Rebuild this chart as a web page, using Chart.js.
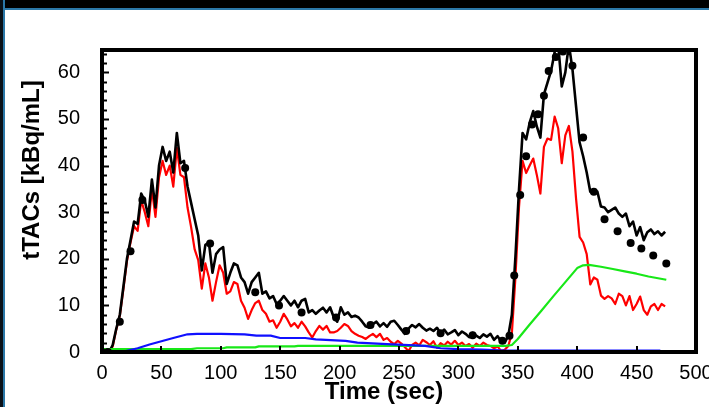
<!DOCTYPE html>
<html>
<head>
<meta charset="utf-8">
<script src="https://cdn.jsdelivr.net/npm/chart.js@4"></script>
<style>
    html, body { margin: 0; padding: 0; background: #fff; overflow: hidden; width: 709px; height: 407px; }
    #chartBox { position: absolute; left: 0; top: 0; }
    #frameTop { position: absolute; left: 0; top: 0; width: 709px; height: 8px; background: #000; border-bottom: 2px solid #2b78a8; z-index: 2; }
    #frameLeft { position: absolute; left: 0; top: 0; width: 3px; height: 407px; background: #0a1118; border-right: 2px solid #2b78a8; z-index: 2; }
</style>
</head>
<body>
<div id="chartBox"><canvas id="tacChart" width="730" height="407"></canvas></div>
<div id="frameTop"></div>
<div id="frameLeft"></div>
<script>
// sampling times of the measured curves (sec)
const timeSec = [
    0, 3, 6, 9, 12, 15, 18, 21, 24, 27,
    30, 33, 36, 39, 42, 45, 48, 51, 54, 57,
    60, 63, 66, 69, 72, 75, 78, 81, 84, 87,
    90, 93, 96, 99, 102, 105, 108, 111, 114, 117,
    120, 123, 126, 129, 132, 135, 138, 141, 144, 147,
    150, 153, 156, 159, 162, 165, 168, 171, 174, 177,
    180, 183, 186, 189, 192, 195, 198, 201, 204, 207,
    210, 213, 216, 219, 222, 225, 228, 231, 234, 237,
    240, 243, 246, 249, 252, 255, 258, 261, 264, 267,
    270, 273, 276, 279, 282, 285, 288, 291, 294, 297,
    300, 303, 306, 309, 312, 315, 318, 321, 324, 327,
    330, 333, 336, 339, 342, 345, 348, 351, 354, 357,
    360, 363, 366, 369, 372, 375, 378, 381, 384, 387,
    390, 393, 396, 399, 402, 405, 408, 411, 414, 417,
    420, 423, 426, 429, 432, 435, 438, 441, 444, 447,
    450, 453, 456, 459, 462, 465, 468, 471, 474
];

// black curve (total tTAC)
const totalTac = [
    0.3, 0, 0, 1.5, 5, 8, 14, 20, 24, 28,
    27.5, 34, 32.5, 29, 37, 31, 40, 44, 41, 43,
    38.5, 47, 40.5, 41, 35.5, 32, 28.5, 25, 17.5, 23,
    23.5, 17, 21, 22, 22.5, 14.6, 17, 19, 18.6, 16,
    15, 12.5, 15, 16, 17, 12.5, 13, 11.5, 12, 10.3,
    11, 12, 11, 10, 11, 9.6, 11, 11.4, 8.5, 9,
    8.2, 8.9, 9.5, 8.5, 9.6, 7.5, 6.5, 9.6, 8, 8.5,
    7.5, 7.8, 7.4, 6.5, 5.5, 5.2, 6, 6.5, 5.5, 6.2,
    5.4, 6.5, 6.7, 5.8, 4.8, 3.9, 5, 5.8, 5.3, 6,
    5.2, 4.6, 5, 4.5, 5.2, 4, 4.8, 3.8, 4.2, 4.7,
    3.6, 4.4, 3.9, 3.2, 4.1, 3.5, 3.0, 3.8, 3.3, 3.9,
    2.6, 3.4, 2.2, 2.0, 3.5, 8, 20.4, 34.8, 47, 45.6,
    49.2, 51.7, 48.4, 46, 55.3, 57.8, 60.3, 64.3, 66, 57,
    60, 66, 60.7, 52.8, 45, 42, 38.5, 34.4, 34.8, 34.4,
    31.2, 31, 30, 30.5, 31, 29.7, 29, 29.7, 27, 28,
    25, 26.8, 24, 25.7, 26.3, 25.3, 25.9, 25, 25.8
];

// red curve
const redTac = [
    0.3, 0, 0, 1.2, 4.8, 7.8, 13.5, 19.5, 23.5, 27,
    26, 32.5, 30, 27, 35, 29, 37.5, 41, 38, 40,
    35.5, 43.8, 38, 37.5, 31, 26.8, 22, 19.7, 13.6, 19,
    16, 11, 15, 18.6, 17, 12.5, 13, 15, 14.6, 11,
    9.5, 7.1, 9, 10.5, 11, 9, 8.2, 6.5, 6.8, 5.2,
    6.5, 8.2, 7, 5.5, 6.2, 5.2, 6.5, 5.5, 4.2, 3.1,
    4.5, 5.6, 4.8, 5.6, 4.2, 4.2, 4.5, 5.2, 6, 5.6,
    4.5, 3.9, 3.5, 3.2, 2.8, 3.4, 3.9, 3.2, 3.9, 2.6,
    3.0, 2.2, 1.7, 2.4, 1.8, 1.0, 0.2, 1.5, 2.0, 1.4,
    2.6, 2.1, 1.5, 2.3, 0.9, 1.9, 1.4, 2.2, 1.6, 2.4,
    1.5, 2.0, 1.3, 1.7, 0.9, 1.8, 1.3, 2.0, 1.5, 1.3,
    0.8, 1.2, 0.2, 0.5, 1.3, 4, 16, 31, 41, 38.4,
    40, 41.5, 38, 34, 44, 45.8, 45.5, 50.5, 48, 40.5,
    46.5, 48.5, 43, 33, 24.7, 23.5, 21, 14.5, 16, 15.5,
    12.1, 11.4, 12, 11.5, 10.3, 12.5, 12, 10, 12, 9,
    10.3, 11.9, 9, 8, 9.8, 10.3, 9, 10.3, 9.8
];

// black dots
const dotTime = [0, 5, 15, 24, 34, 70, 91, 129, 149, 168, 197, 226, 256, 285, 312,
    337, 343, 347, 352, 357, 362, 367, 372, 376, 382, 388, 396, 405, 414, 423, 434, 445, 454, 464, 475];
const dotTac = [0, 0, 6.5, 21.6, 32.6, 39.5, 23.3, 12.8, 10, 8.5, 7.4, 5.8, 4.5, 4, 3.6,
    2.4, 3.5, 16.4, 33.7, 42, 48.8, 51, 55, 60.3, 63.3, 64.5, 61.4, 46, 34.4, 28.5, 25.9, 23.4, 22.2, 20.7, 19];

// green curve
const greenTime = [0, 20, 40, 60, 75, 80, 102, 105, 129, 132, 162, 165, 200, 250, 300, 340, 345, 350,
    360, 370, 380, 390, 400, 405, 410, 420, 430, 440, 450, 460, 475];
const greenTac = [0.6, 0.6, 0.6, 0.6, 0.6, 0.8, 0.8, 1.0, 1.0, 1.2, 1.2, 1.3, 1.3, 1.3, 1.3, 1.3, 1.5, 2.8,
    5.9, 8.9, 12, 15, 18, 18.6, 18.7, 18.3, 17.8, 17.3, 16.8, 16.2, 15.5];

// blue curve
const blueTime = [0, 15, 20, 30, 40, 50, 60, 72, 80, 100, 120, 130, 142, 150, 171, 180, 205, 215, 240,
    272, 285, 300, 320, 340, 360, 400, 470];
const blueTac = [0, 0, 0.2, 0.8, 1.6, 2.3, 3.0, 3.8, 3.9, 3.9, 3.8, 3.5, 3.5, 3.0, 3.0, 2.7, 2.4, 2.0, 1.7,
    1.3, 0.8, 0.6, 0.5, 0.3, 0.3, 0.3, 0.3];

const xTickLabels = [0, 50, 100, 150, 200, 250, 300, 350, 400, 450, 500];
const yTickLabels = [0, 10, 20, 30, 40, 50, 60];

const xTitle = 'Time (sec)';
const yTitle = 'tTACs [kBq/mL]';

const FONT = "'Liberation Sans', Arial, Helvetica, sans-serif";

function toPoints(xs, ys) {
    return xs.map((x, i) => ({ x: x, y: ys[i] }));
}

// box border, inside ticks and axis titles
const framePlugin = {
    id: 'framePlugin',
    afterDraw(chart) {
        const ctx = chart.ctx;
        const a = chart.chartArea;
        const xs = chart.scales.x;
        const ys = chart.scales.y;
        ctx.save();
        ctx.strokeStyle = '#000';
        ctx.lineWidth = 2;
        // y ticks on left edge
        for (let v = 0; v <= 64; v += 2) {
            const py = Math.round(ys.getPixelForValue(v)) + 0.5;
            const len = v % 10 === 0 ? 7 : 5;
            ctx.beginPath();
            ctx.moveTo(a.left, py);
            ctx.lineTo(a.left + len, py);
            ctx.stroke();
        }
        // x ticks on bottom edge
        xTickLabels.forEach((v) => {
            const px = Math.round(xs.getPixelForValue(v));
            ctx.beginPath();
            ctx.moveTo(px, a.bottom);
            ctx.lineTo(px, a.bottom - 6);
            ctx.stroke();
        });
        ctx.lineWidth = 4;
        ctx.strokeRect(a.left, a.top, a.right - a.left, a.bottom - a.top);

        ctx.fillStyle = '#000';
        ctx.font = 'bold 24px ' + FONT;
        ctx.textAlign = 'center';
        ctx.textBaseline = 'middle';
        ctx.fillText(xTitle, 384, 392);
        ctx.translate(32, 170);
        ctx.rotate(-Math.PI / 2);
        ctx.fillText(yTitle, 0, 0);
        ctx.restore();
    }
};

const ctx = document.getElementById('tacChart').getContext('2d');
new Chart(ctx, {
    type: 'line',
    data: {
        datasets: [
            {
                label: 'dots',
                data: toPoints(dotTime, dotTac),
                showLine: false,
                pointRadius: 4,
                pointBackgroundColor: '#000',
                pointBorderWidth: 0,
                order: 0
            },
            {
                label: 'blue',
                data: toPoints(blueTime, blueTac),
                borderColor: '#1010ff',
                borderWidth: 2.2,
                pointRadius: 0,
                order: 1
            },
            {
                label: 'green',
                data: toPoints(greenTime, greenTac),
                borderColor: '#18e818',
                borderWidth: 2.2,
                pointRadius: 0,
                order: 2
            },
            {
                label: 'total',
                data: toPoints(timeSec, totalTac),
                borderColor: '#000',
                borderWidth: 2.6,
                pointRadius: 0,
                order: 3
            },
            {
                label: 'red',
                data: toPoints(timeSec, redTac),
                borderColor: '#ff0000',
                borderWidth: 2.2,
                pointRadius: 0,
                order: 4
            }
        ]
    },
    options: {
        responsive: false,
        animation: false,
        devicePixelRatio: 1,
        events: [],
        layout: { padding: { top: 50, right: 34, left: 0, bottom: 0 } },
        elements: { line: { tension: 0, borderJoinStyle: 'round' } },
        plugins: { legend: { display: false }, tooltip: { enabled: false } },
        scales: {
            x: {
                type: 'linear',
                min: 0,
                max: 500,
                grid: { display: false, drawTicks: false },
                border: { display: false },
                afterFit(scale) { scale.height = 55; },
                afterBuildTicks(scale) { scale.ticks = xTickLabels.map((v) => ({ value: v })); },
                ticks: {
                    padding: 9,
                    color: '#000',
                    maxRotation: 0,
                    autoSkip: false,
                    font: { family: FONT, size: 20 }
                }
            },
            y: {
                min: 0,
                max: 64.8,
                grid: { display: false, drawTicks: false },
                border: { display: false },
                afterFit(scale) { scale.width = 102; },
                afterBuildTicks(scale) { scale.ticks = yTickLabels.map((v) => ({ value: v })); },
                ticks: {
                    padding: 22,
                    color: '#000',
                    font: { family: FONT, size: 20 }
                }
            }
        }
    },
    plugins: [framePlugin]
});
</script>
</body>
</html>
